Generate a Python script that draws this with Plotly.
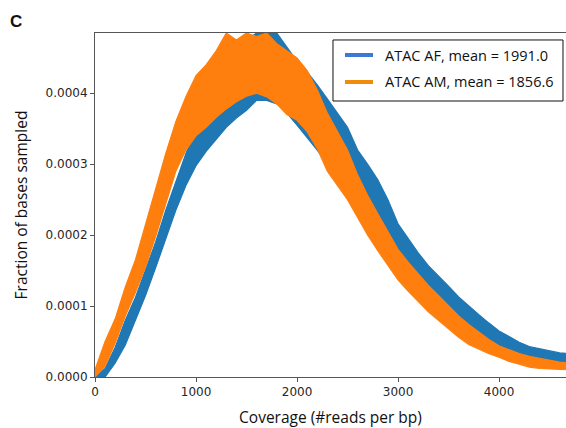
import plotly.graph_objects as go

# Coverage grid (#reads per bp)
coverage = [0, 100, 200, 300, 400, 500, 600, 700, 800, 900,
            1000, 1100, 1200, 1300, 1400, 1500, 1600, 1700, 1800, 1900,
            2000, 2100, 2200, 2300, 2400, 2500, 2600, 2700, 2800, 2900,
            3000, 3100, 3200, 3300, 3400, 3500, 3600, 3700, 3800, 3900,
            4000, 4100, 4200, 4300, 4400, 4500, 4600, 4700]

# ATAC AF: upper / lower extent of the noisy trace (fraction of bases sampled)
af_high = [0.0e-4, 0.12e-4, 0.42e-4, 0.80e-4, 1.12e-4, 1.50e-4, 1.90e-4, 2.35e-4, 2.75e-4, 3.15e-4,
           3.50e-4, 3.90e-4, 4.20e-4, 4.40e-4, 4.60e-4, 4.75e-4, 4.85e-4, 4.85e-4, 4.85e-4, 4.65e-4,
           4.45e-4, 4.30e-4, 4.12e-4, 3.92e-4, 3.72e-4, 3.52e-4, 3.20e-4, 3.00e-4, 2.78e-4, 2.50e-4,
           2.16e-4, 1.95e-4, 1.75e-4, 1.57e-4, 1.43e-4, 1.28e-4, 1.13e-4, 1.00e-4, 0.88e-4, 0.76e-4,
           0.65e-4, 0.57e-4, 0.49e-4, 0.43e-4, 0.40e-4, 0.37e-4, 0.34e-4, 0.33e-4]
af_low = [0.0e-4, 0.0e-4, 0.20e-4, 0.45e-4, 0.80e-4, 1.15e-4, 1.54e-4, 1.93e-4, 2.35e-4, 2.70e-4,
          2.98e-4, 3.18e-4, 3.35e-4, 3.52e-4, 3.65e-4, 3.76e-4, 3.90e-4, 3.90e-4, 3.85e-4, 3.72e-4,
          3.55e-4, 3.38e-4, 3.20e-4, 3.00e-4, 2.85e-4, 2.65e-4, 2.40e-4, 2.20e-4, 1.98e-4, 1.75e-4,
          1.55e-4, 1.38e-4, 1.22e-4, 1.08e-4, 0.95e-4, 0.83e-4, 0.72e-4, 0.62e-4, 0.53e-4, 0.45e-4,
          0.38e-4, 0.33e-4, 0.28e-4, 0.25e-4, 0.22e-4, 0.20e-4, 0.19e-4, 0.18e-4]

# ATAC AM: upper / lower extent of the noisy trace
am_high = [0.10e-4, 0.50e-4, 0.82e-4, 1.27e-4, 1.65e-4, 2.15e-4, 2.68e-4, 3.15e-4, 3.60e-4, 3.95e-4,
           4.25e-4, 4.40e-4, 4.60e-4, 4.85e-4, 4.75e-4, 4.85e-4, 4.80e-4, 4.85e-4, 4.70e-4, 4.60e-4,
           4.50e-4, 4.32e-4, 4.05e-4, 3.72e-4, 3.45e-4, 3.20e-4, 2.85e-4, 2.56e-4, 2.30e-4, 2.05e-4,
           1.80e-4, 1.62e-4, 1.45e-4, 1.29e-4, 1.15e-4, 1.00e-4, 0.86e-4, 0.74e-4, 0.63e-4, 0.53e-4,
           0.44e-4, 0.38e-4, 0.33e-4, 0.29e-4, 0.26e-4, 0.23e-4, 0.21e-4, 0.20e-4]
am_low = [0.0e-4, 0.15e-4, 0.48e-4, 0.86e-4, 1.19e-4, 1.55e-4, 1.98e-4, 2.45e-4, 2.90e-4, 3.20e-4,
          3.40e-4, 3.52e-4, 3.66e-4, 3.78e-4, 3.88e-4, 3.96e-4, 4.00e-4, 3.95e-4, 3.85e-4, 3.70e-4,
          3.62e-4, 3.46e-4, 3.22e-4, 2.90e-4, 2.70e-4, 2.50e-4, 2.25e-4, 2.00e-4, 1.78e-4, 1.57e-4,
          1.37e-4, 1.21e-4, 1.06e-4, 0.92e-4, 0.80e-4, 0.68e-4, 0.56e-4, 0.46e-4, 0.39e-4, 0.33e-4,
          0.28e-4, 0.22e-4, 0.18e-4, 0.14e-4, 0.12e-4, 0.11e-4, 0.10e-4, 0.10e-4]

series_names = ["ATAC AF, mean = 1991.0", "ATAC AM, mean = 1856.6"]
line_colors = ["#1f77b4", "#ff7f0e"]
legend_colors = ["#3b78d8", "#f08c0c"]

x_ticks = [0, 1000, 2000, 3000, 4000]
y_ticks = [0.0, 0.0001, 0.0002, 0.0003, 0.0004]

fig = go.Figure()
for name, lo, hi, col in [(series_names[0], af_low, af_high, line_colors[0]),
                          (series_names[1], am_low, am_high, line_colors[1])]:
    fig.add_trace(go.Scatter(x=coverage, y=lo, mode="lines", line=dict(color=col, width=1.2),
                             name=name, showlegend=False, hoverinfo="skip"))
    fig.add_trace(go.Scatter(x=coverage, y=hi, mode="lines", line=dict(color=col, width=1.2),
                             fill="tonexty", fillcolor=col, name=name, showlegend=False,
                             hoverinfo="skip"))

# Legend box drawn in paper coordinates
shapes = [dict(type="rect", xref="paper", yref="paper", x0=0.5053, x1=0.9936, y0=0.8023, y1=0.9797,
               line=dict(color="#111111", width=1), fillcolor="white", layer="above")]
annotations = []
for name, col, yy in zip(series_names, legend_colors, [0.936, 0.8576]):
    shapes.append(dict(type="line", xref="paper", yref="paper", x0=0.5308, x1=0.5902, y0=yy, y1=yy,
                       line=dict(color=col, width=4), layer="above"))
    annotations.append(dict(text=name, x=0.6115, y=yy, xref="paper", yref="paper",
                            xanchor="left", yanchor="middle", showarrow=False,
                            font=dict(family="Open Sans", size=14.5, color="#111111")))

annotations.append(dict(text="<b>C</b>", x=-0.168, y=1.032, xref="paper", yref="paper",
                        xanchor="center", yanchor="middle", showarrow=False,
                        font=dict(family="Liberation Sans", size=17, color="#111111")))

axis_font = dict(family="DejaVu Sans", size=12, color="#262626")
title_font = dict(family="Open Sans", size=15.5, color="#111111")

fig.update_layout(
    width=566, height=428,
    margin=dict(l=95, r=0, t=33, b=51),
    plot_bgcolor="white", paper_bgcolor="white",
    showlegend=False,
    xaxis=dict(range=[0, 4663], tickvals=x_ticks, ticktext=[str(v) for v in x_ticks],
               showgrid=False, zeroline=False, showline=True, linecolor="#555555", linewidth=1,
               mirror=True, ticks="outside", ticklen=4, tickcolor="#555555",
               tickfont=axis_font,
               title=dict(text="Coverage (#reads per bp)", font=title_font, standoff=14)),
    yaxis=dict(range=[0, 0.000485], tickvals=y_ticks, tickformat=".4f",
               showgrid=False, zeroline=False, showline=True, linecolor="#555555", linewidth=1,
               ticks="outside", ticklen=4, tickcolor="#555555",
               tickfont=axis_font,
               title=dict(text="Fraction of bases sampled", font=title_font, standoff=14)),
    shapes=shapes,
    annotations=annotations,
)

fig.write_html("out.html")
